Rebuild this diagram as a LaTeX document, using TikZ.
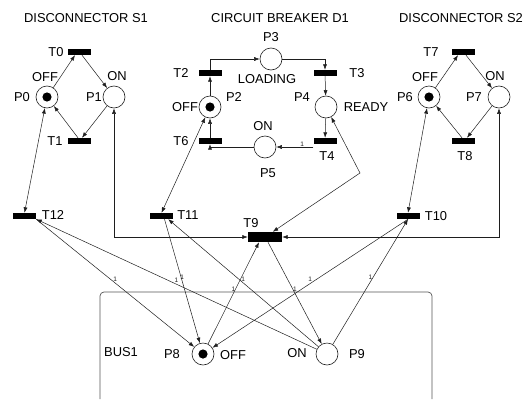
\documentclass[tikz,border=0pt]{standalone}
\usepackage{fontspec}
\setmainfont{Liberation Sans}
\usetikzlibrary{arrows.meta,positioning}
\definecolor{pnink}{HTML}{1E1E1E}
\definecolor{pnframe}{HTML}{555555}
\tikzset{
  pn place/.style={circle, draw=pnink, line width=0.6pt, minimum size=22pt,
    inner sep=0pt},
  pn marked/.style={path picture={
    \fill[black] (path picture bounding box.center) circle (4.6pt);}},
  pn trans/.style={rectangle, fill=black, inner sep=0pt,
    minimum width=23pt, minimum height=6pt},
  pn big trans/.style={pn trans, minimum width=34pt, minimum height=10pt},
  pn arc/.style={draw=pnink, line width=0.5pt,
    -{Latex[length=5.5pt, width=4pt]}},
  pn read/.style={pn arc,
    {Latex[length=5.5pt, width=4pt]}-{Latex[length=5.5pt, width=4pt]}},
  net label/.style={font=\fontsize{12.9}{14}\selectfont, text=black,
    inner sep=0pt},
  weight label/.style={font=\fontsize{6.5}{7}\selectfont, text=pnink,
    inner sep=0.6pt},
  bus box/.style={draw=pnframe, line width=0.7pt, rounded corners=4pt},
}

\begin{document}
\begin{tikzpicture}[x=1pt, y=-1pt]
  \useasboundingbox (0,0) rectangle (532,399);

  \begin{scope}[shift={(0,0)}]
    \node[net label] (S1title) at (86,18) {DISCONNECTOR S1};
    \node[pn trans] (T0) at (79,52) {};
    \node[pn place, pn marked] (P0) at (47,97) {};
    \node[pn place] (P1) at (114,97) {};
    \node[pn trans] (T1) at (79,141) {};
    \draw[pn arc] (P0) -- ([xshift=-4pt]T0.south);
    \draw[pn arc] ([xshift=3pt]T0.south) -- (P1);
    \draw[pn arc] (P1) -- ([xshift=3pt]T1.north);
    \draw[pn arc] ([xshift=-1pt]T1.north) -- (P0);
    \node[net label] (T0lbl) at (56,52) {T0};
    \node[net label] (P0lbl) at (22,97) {P0};
    \node[net label] (P0off) at (45,77) {OFF};
    \node[net label] (P1lbl) at (94,97) {P1};
    \node[net label] (P1on) at (117,76) {ON};
    \node[net label] (T1lbl) at (55,141) {T1};
  \end{scope}

  \begin{scope}[shift={(0,0)}]
    \node[net label] (D1title) at (280,18) {CIRCUIT BREAKER D1};
    \node[pn place] (P3) at (271,59) {};
    \node[pn trans] (T2) at (210,73) {};
    \node[pn trans] (T3) at (325,73) {};
    \node[pn place, pn marked] (P2) at (210,107) {};
    \node[pn place] (P4) at (326,107) {};
    \node[pn trans] (T6) at (210,141) {};
    \node[pn trans] (T4) at (325,141) {};
    \node[pn place] (P5) at (265,147) {};
    \draw[pn arc] (P2) -- (T2);
    \draw[pn arc] (T2) |- (P3);
    \draw[pn arc] (P3) -| (T3);
    \draw[pn arc] (T3) -- (P4);
    \draw[pn arc] (P4) -- (T4);
    \draw[pn arc] (T4.south west |- P5) -- node[weight label, pos=.3, above] (w45) {1} (P5);
    \draw[pn arc] (P5) -| (T6);
    \draw[pn arc] (T6) -- (P2);
    \node[net label] (P3lbl) at (271,37) {P3};
    \node[net label] (T2lbl) at (181,73) {T2};
    \node[net label] (T3lbl) at (357,73) {T3};
    \node[net label] (P3load) at (267,79) {LOADING};
    \node[net label] (P2lbl) at (234,97) {P2};
    \node[net label] (P2off) at (185,107) {OFF};
    \node[net label] (P4lbl) at (302,97) {P4};
    \node[net label] (P4ready) at (366,107) {READY};
    \node[net label] (P5on) at (263,126) {ON};
    \node[net label] (T6lbl) at (181,141) {T6};
    \node[net label] (T4lbl) at (327,156) {T4};
    \node[net label] (P5lbl) at (268,173) {P5};
  \end{scope}

  \begin{scope}[shift={(383,0)}]
    \node[net label] (S2title) at (78,18) {DISCONNECTOR S2};
    \node[pn trans] (T7) at (80,52) {};
    \node[pn place, pn marked] (P6) at (46,97) {};
    \node[pn place] (P7) at (116,97) {};
    \node[pn trans] (T8) at (80,141) {};
    \draw[pn arc] (P6) -- ([xshift=-5pt]T7.south);
    \draw[pn arc] ([xshift=3pt]T7.south) -- (P7);
    \draw[pn arc] (P7) -- ([xshift=4pt]T8.north);
    \draw[pn arc] ([xshift=-1pt]T8.north) -- (P6);
    \node[net label] (T7lbl) at (48,52) {T7};
    \node[net label] (P6lbl) at (22,97) {P6};
    \node[net label] (P6off) at (42,77) {OFF};
    \node[net label] (P7lbl) at (91,97) {P7};
    \node[net label] (P7on) at (112,76) {ON};
    \node[net label] (T8lbl) at (82,156) {T8};
  \end{scope}

  \node[pn trans] (T12) at (24.5,216) {};
  \node[pn trans] (T11) at (161.5,216) {};
  \node[pn big trans] (T9) at (265,237) {};
  \node[pn trans] (T10) at (408,216) {};
  \node[net label] (T12lbl) at (53,215) {T12};
  \node[net label] (T11lbl) at (188,215) {T11};
  \node[net label] (T9lbl) at (251,223) {T9};
  \node[net label] (T10lbl) at (436,216) {T10};
  \coordinate (P4bend) at (360,173);
  \draw[pn read] (P0) -- (T12.north);
  \draw[pn read] (P2) -- (T11.north);
  \draw[pn read] (P6) -- (T10.north);
  \draw[pn read] (P1) |- (T9);
  \draw[pn read] (P7) |- (T9);
  \draw[pn read] (P4) -- (P4bend) -- (T9);

  \draw[bus box] (100,399) -- (100,292) -- (432,292) -- (432,399);
  \node[pn place, pn marked] (P8) at (203,354) {};
  \node[pn place] (P9) at (327,354) {};
  \node[net label] (bus1) at (121,352) {BUS1};
  \node[net label] (P8lbl) at (172,354) {P8};
  \node[net label] (P8off) at (233,355) {OFF};
  \node[net label] (P9on) at (297,353) {ON};
  \node[net label] (P9lbl) at (357,354) {P9};

  \draw[pn arc] (P9) -- node[weight label, midway, above=1pt] (w9a) {1} (T12.south east);
  \draw[pn arc] (T12.south east) -- node[weight label, midway, above=1pt] (w8a) {1} (P8);
  \draw[pn arc] (P9) -- node[weight label, midway, above=1pt] (w9b) {1} ([xshift=-5pt]T11.south east);
  \draw[pn arc] ([xshift=3pt]T11.south) -- node[weight label, midway, above=1pt] (w8b) {1} (P8);
  \draw[pn arc] (P8) -- node[weight label, midway, above=1pt] (w8c) {1} ([xshift=-6pt]T9.south);
  \draw[pn arc] ([xshift=3pt]T9.south) -- node[weight label, midway, above=1pt] (w9c) {1} (P9);
  \draw[pn arc] (P9) -- node[weight label, midway, above=1pt] (w9d) {1} (T10.south);
  \draw[pn arc] (T10.south) -- node[weight label, midway, above=1pt] (w8d) {1} (P8);
\end{tikzpicture}
\end{document}
